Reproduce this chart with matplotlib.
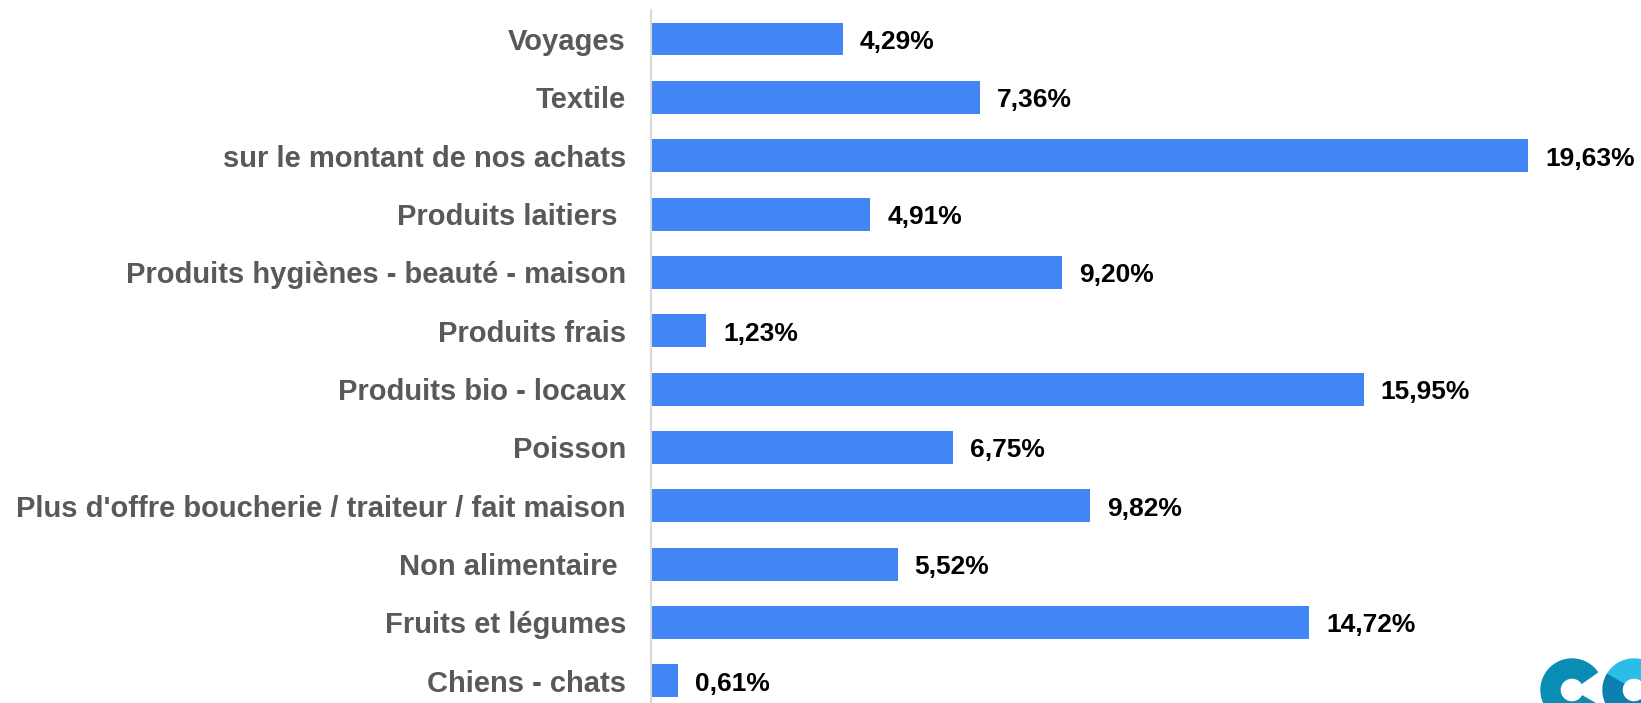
import matplotlib.pyplot as plt
from matplotlib.patches import Wedge

categories = [
    "Voyages",
    "Textile",
    "sur le montant de nos achats",
    "Produits laitiers ",
    "Produits hygiènes - beauté - maison",
    "Produits frais",
    "Produits bio - locaux",
    "Poisson",
    "Plus d'offre boucherie / traiteur / fait maison",
    "Non alimentaire ",
    "Fruits et légumes",
    "Chiens - chats",
]
values = [4.29, 7.36, 19.63, 4.91, 9.20, 1.23, 15.95, 6.75, 9.82, 5.52, 14.72, 0.61]
value_labels = ["4,29%", "7,36%", "19,63%", "4,91%", "9,20%", "1,23%",
                "15,95%", "6,75%", "9,82%", "5,52%", "14,72%", "0,61%"]

plt.rcParams['font.family'] = ['Liberation Sans', 'DejaVu Sans']

fig = plt.figure(figsize=(16.41, 7.03), dpi=100)
ax = fig.add_axes([0.3967, 0.0, 0.6033, 0.986])

ypos = list(range(len(categories)))
ax.barh(ypos, values, height=0.565, color='#4285f4')

for y, v, lab in zip(ypos, values, value_labels):
    ax.text(v + 0.38, y + 0.05, lab, va='center', ha='left', fontsize=19,
            fontweight='bold', color='#000000')

ax.set_ylim(11.38, -0.5)
ax.set_xlim(0, 22.15)
ax.set_yticks(ypos)
ax.set_yticklabels(categories, fontsize=21, fontweight='bold', color='#595959')
ax.tick_params(axis='y', length=0, pad=18)
ax.set_xticks([])
for s in ['top', 'right', 'bottom']:
    ax.spines[s].set_visible(False)
ax.spines['left'].set_color('#d9d9d9')
ax.spines['left'].set_linewidth(1.5)

# logo fragment in the corner (pixel coordinates)
fig.patches.append(Wedge((1572, 703 - 690), 31, 35, 330, width=19,
                         color='#0a8db5', transform=None))
fig.patches.append(Wedge((1634, 703 - 690), 31, -60, 150, width=19,
                         color='#2bbde8', transform=None))
fig.patches.append(Wedge((1634, 703 - 690), 31, 150, 300, width=19,
                         color='#0a7fb0', transform=None))

fig.savefig('out.png', dpi=100)
